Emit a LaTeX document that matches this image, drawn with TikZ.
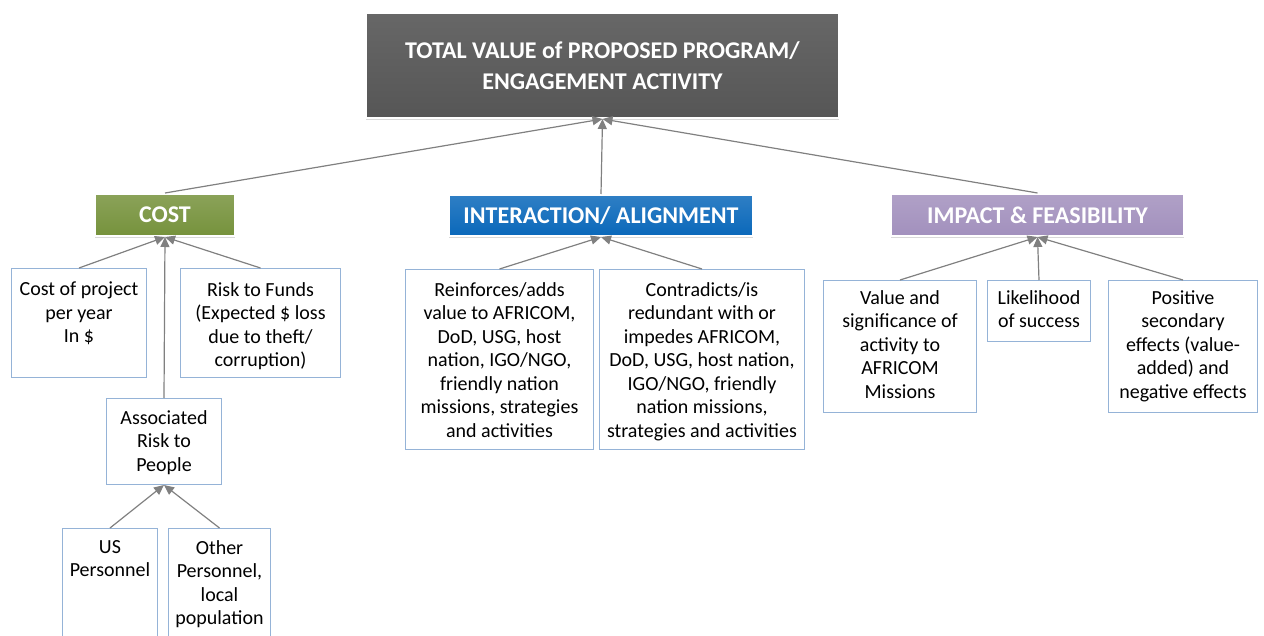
\documentclass[tikz,border=0pt]{standalone}
\usepackage{fontspec}
\setmainfont{Carlito}
\usetikzlibrary{arrows.meta, positioning, shadows}

\definecolor{topgray}{HTML}{565656}
\definecolor{costgreen}{HTML}{76923C}
\definecolor{alignblue}{HTML}{0A68BA}
\definecolor{impactpurple}{HTML}{A290BD}
\definecolor{leafblue}{HTML}{95B3D7}
\definecolor{linkgray}{HTML}{808080}

\tikzset{
    head/.style={draw=white, line width=2pt, text=white, align=center, inner sep=0pt,
        font=\fontsize{24}{31}\selectfont\bfseries,
        drop shadow={shadow xshift=0pt, shadow yshift=-2pt, opacity=.3}},
    leaf/.style={draw=leafblue, line width=1pt, inner sep=0pt},
    leaftext/.style={font=\fontsize{20}{23.5}\selectfont, align=center, inner sep=0pt, anchor=north},
    link/.style={draw=linkgray, line width=1.2pt, -{Triangle[length=10pt,width=9pt]}},
}

\begin{document}
\begin{tikzpicture}[x=1pt, y=-1pt]
    \useasboundingbox (0,0) rectangle (1264,636);
    % top level
    \node[head, top color=topgray!90, bottom color=topgray, minimum width=473, minimum height=105, anchor=north west] (total) at (365,12)
        {TOTAL VALUE of PROPOSED PROGRAM/\\ENGAGEMENT ACTIVITY};
    % three criteria
    \node[head, top color=costgreen!85, bottom color=costgreen, minimum width=140, minimum height=42, anchor=north west] (cost) at (94,193) {COST};
    \node[head, top color=alignblue!85, bottom color=alignblue, minimum width=304, minimum height=41, anchor=north west] (align) at (448,194) {INTERACTION/ ALIGNMENT};
    \node[head, top color=impactpurple!85, bottom color=impactpurple, minimum width=293, minimum height=42, anchor=north west] (impact) at (890,193) {IMPACT \& FEASIBILITY};
    \draw[link] (cost.north) -- (total.south);
    \draw[link] (align.north) -- (total.south);
    \draw[link] (impact.north) -- (total.south);

    % cost branch
    \node[leaf, minimum width=135, minimum height=109, anchor=north west] (cop) at (11,268) {};
    \node[leaftext] (cop-t) at ([yshift=-14]cop.north) {Cost of project\\per year\\In \$};
    \node[leaf, minimum width=160, minimum height=109, anchor=north west] (rtf) at (180,268) {};
    \node[leaftext] (rtf-t) at ([yshift=-14]rtf.north) {Risk to Funds\\(Expected \$ loss\\due to theft/\\corruption)};
    \node[leaf, minimum width=115, minimum height=86, anchor=north west] (arp) at (106,398) {};
    \node[leaftext] (arp-t) at ([yshift=-12]arp.north) {Associated\\Risk to\\People};
    \node[leaf, minimum width=95, minimum height=115, anchor=north west] (usp) at (62,528) {};
    \node[leaftext] (usp-t) at ([yshift=-12]usp.north) {US\\Personnel};
    \node[leaf, minimum width=102, minimum height=115, anchor=north west] (oth) at (168,528) {};
    \node[leaftext] (oth-t) at ([yshift=-12]oth.north) {Other\\Personnel,\\local\\population};
    \draw[link] (cop.north) -- (cost.south);
    \draw[link] (rtf.north) -- (cost.south);
    \draw[link] (arp.north) -- (cost.south);
    \draw[link] (usp.north) -- (arp.south);
    \draw[link] (oth.north) -- (arp.south);

    % interaction branch
    \node[leaf, minimum width=188, minimum height=180, anchor=north west] (rein) at (405,269) {};
    \node[leaftext] (rein-t) at ([yshift=-13]rein.north) {Reinforces/adds\\value to AFRICOM,\\DoD, USG, host\\nation, IGO/NGO,\\friendly nation\\missions, strategies\\and activities};
    \node[leaf, minimum width=205, minimum height=180, anchor=north west] (contra) at (599,269) {};
    \node[leaftext] (contra-t) at ([yshift=-13]contra.north) {Contradicts/is\\redundant with or\\impedes AFRICOM,\\DoD, USG, host nation,\\IGO/NGO, friendly\\nation missions,\\strategies and activities};
    \draw[link] (rein.north) -- (align.south);
    \draw[link] (contra.north) -- (align.south);

    % impact branch
    \node[leaf, minimum width=153, minimum height=132, anchor=north west] (valsig) at (823,280) {};
    \node[leaftext] (valsig-t) at ([yshift=-10]valsig.north) {Value and\\significance of\\activity to\\AFRICOM\\Missions};
    \node[leaf, minimum width=103, minimum height=61, anchor=north west] (likely) at (987,280) {};
    \node[leaftext] (likely-t) at ([yshift=-10]likely.north) {Likelihood\\of success};
    \node[leaf, minimum width=149, minimum height=132, anchor=north west] (posit) at (1108,280) {};
    \node[leaftext] (posit-t) at ([yshift=-10]posit.north) {Positive\\secondary\\effects (value-\\added) and\\negative effects};
    \draw[link] (valsig.north) -- (impact.south);
    \draw[link] (likely.north) -- (impact.south);
    \draw[link] (posit.north) -- (impact.south);
\end{tikzpicture}
\end{document}
